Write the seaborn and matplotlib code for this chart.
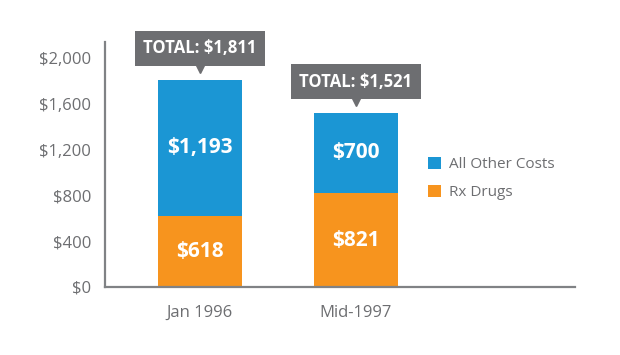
import matplotlib
matplotlib.use("Agg")
import matplotlib.pyplot as plt
from matplotlib.patches import Patch
from matplotlib.ticker import FuncFormatter
from matplotlib.transforms import offset_copy
import pandas as pd
import seaborn as sns

# data
periods = ["Jan 1996", "Mid-1997"]
rx_drugs = [618, 821]
other_costs = [1193, 700]
totals = [1811, 1521]
series_names = ["All Other Costs", "Rx Drugs"]
y_ticks = [0, 400, 800, 1200, 1600, 2000]

blue = "#1b96d4"
orange = "#f7941e"
grey_text = "#6d6e71"
grey_box = "#6d6e71"
axis_grey = "#808285"

sns.set_style("white")
plt.rcParams["font.family"] = ["Open Sans", "DejaVu Sans"]

df = pd.DataFrame({"period": periods, "rx": rx_drugs,
                   "other": other_costs, "total": totals})

fig = plt.figure(figsize=(6.2, 3.55), dpi=100)
ax = fig.add_axes([105 / 620, 1 - 287 / 355, (575 - 105) / 620, (287 - 42) / 355])

# stacked bars: total in blue, rx drugs in orange on top of it
sns.barplot(data=df, x="period", y="total", color=blue, width=0.54,
            saturation=1, linewidth=0, ax=ax)
sns.barplot(data=df, x="period", y="rx", color=orange, width=0.54,
            saturation=1, linewidth=0, ax=ax)

ax.set_xlim(-0.609, 2.404)
ax.set_ylim(0, 2140)
ax.set_yticks(y_ticks)
ax.yaxis.set_major_formatter(FuncFormatter(lambda v, p: f"${v:,.0f}"))
ax.set_xlabel("")
ax.set_ylabel("")
ax.tick_params(axis="both", length=0, labelsize=12, colors=grey_text)
ax.tick_params(axis="y", pad=10)
ax.tick_params(axis="x", pad=13)

for s in ["top", "right"]:
    ax.spines[s].set_visible(False)
for s in ["left", "bottom"]:
    ax.spines[s].set_color(axis_grey)
    ax.spines[s].set_linewidth(1.6)

# segment labels
for i in range(len(periods)):
    ax.text(i, rx_drugs[i] / 2, f"${rx_drugs[i]:,}", ha="center", va="center",
            color="white", fontsize=15, fontweight="bold")
    ax.text(i, rx_drugs[i] + other_costs[i] / 2, f"${other_costs[i]:,}",
            ha="center", va="center", color="white", fontsize=15,
            fontweight="bold")

# total callouts
for i in range(len(periods)):
    ax.annotate(f"TOTAL: ${totals[i]:,}", xy=(i, totals[i]),
                xytext=(0, 22.5), textcoords="offset points",
                ha="center", va="center", color="white", fontsize=12,
                fontweight="bold", annotation_clip=False,
                bbox=dict(boxstyle="square,pad=0.5", fc=grey_box, ec="none"))
    tr = offset_copy(ax.transData, fig=fig, x=0, y=9, units="points")
    ax.plot([i], [totals[i]], marker="v", ms=8, color=grey_box,
            transform=tr, clip_on=False)

handles = [Patch(facecolor=blue, edgecolor="none"),
           Patch(facecolor=orange, edgecolor="none")]
leg = fig.legend(handles, series_names, loc="center left",
                 bbox_to_anchor=(428 / 620, 1 - 178.5 / 355),
                 frameon=False, fontsize=11, handlelength=0.85,
                 handleheight=0.85, handletextpad=0.5, labelspacing=0.85,
                 borderpad=0, borderaxespad=0)
for t in leg.get_texts():
    t.set_color(grey_text)

fig.savefig("out.png", dpi=100)
